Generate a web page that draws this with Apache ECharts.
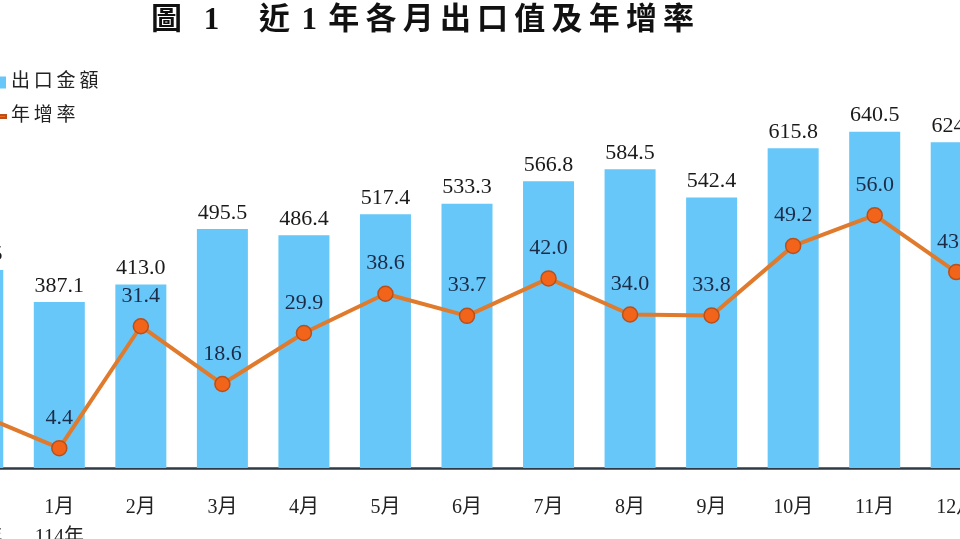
<!DOCTYPE html>
<html>
<head>
<meta charset="utf-8">
<script src="https://cdn.jsdelivr.net/npm/echarts@6/dist/echarts.min.js"></script>
<style>
  html, body { margin: 0; padding: 0; background: #fff; overflow: hidden; width: 960px; height: 539px; }
  /* chart is wider than the window so the first and last months are cut off like the source picture */
  #chart { position: absolute; left: -63px; top: 0; width: 1060px; height: 539px; }
</style>
</head>
<body>
<div id="chart"></div>
<script>
// months (first one is 113年12月, cut off at the left edge like the source image)
var months = ['12月\n113年', '1月\n114年', '2月', '3月', '4月', '5月', '6月', '7月', '8月', '9月', '10月', '11月', '12月'];
// 出口金額 (億美元)
var exportValue = [434.5, 387.1, 413.0, 495.5, 486.4, 517.4, 533.3, 566.8, 584.5, 542.4, 615.8, 640.5, 624.7];
// 年增率 (%)
var growthRate = [12.0, 4.4, 31.4, 18.6, 29.9, 38.6, 33.7, 42.0, 34.0, 33.8, 49.2, 56.0, 43.4];

var shift = 63; // chart div starts this far left of the window
var serif = '"Liberation Serif", "Noto Sans CJK TC", serif';
var spaced = function (s) { return s.split('').join('\u2009'); };

var chart = echarts.init(document.getElementById('chart'));

var option = {
    animation: false,
    backgroundColor: '#fff',
    title: {
        text: '圖\u2002\u20091\u2002\u2002\u2009\u200a近\u2009\u200a\u200a1\u2009\u200a\u200a' + spaced('年各月出口值及年增率'),
        left: 146 + shift,
        top: 0,
        textStyle: {
            fontFamily: serif,
            fontSize: 31,
            fontWeight: 'bold',
            color: '#111'
        }
    },
    legend: {
        orient: 'vertical',
        left: -12 + shift,
        top: 68,
        itemWidth: 12,
        itemHeight: 12,
        itemGap: 15,
        formatter: spaced,
        textStyle: {
            fontFamily: serif,
            fontSize: 19,
            color: '#222'
        },
        data: [
            { name: '出口金額', icon: 'rect' },
            { name: '年增率', icon: 'path://M0,0 L12,0 L12,3 L0,3 Z' }
        ]
    },
    grid: {
        left: 0,
        right: 0,
        top: 68,
        bottom: 71,
        containLabel: false,
        outerBoundsMode: 'none'
    },
    xAxis: {
        type: 'category',
        data: months,
        axisTick: { show: false },
        axisLine: { lineStyle: { color: '#2f3a45', width: 2.5 } },
        axisLabel: {
            fontFamily: serif,
            fontSize: 20,
            color: '#222',
            margin: 25,
            lineHeight: 30
        }
    },
    yAxis: [
        { type: 'value', min: 140, max: 735.2, show: false, splitLine: { show: false } },
        { type: 'value', min: 0, max: 88.6, show: false, splitLine: { show: false } }
    ],
    series: [
        {
            name: '出口金額',
            type: 'bar',
            data: exportValue,
            barWidth: 51,
            itemStyle: { color: '#66c7f8' },
            label: {
                show: true,
                position: 'top',
                distance: 5,
                fontFamily: serif,
                fontSize: 22,
                color: '#1a1a1a',
                formatter: function (p) { return p.value.toFixed(1); }
            }
        },
        {
            name: '年增率',
            type: 'line',
            yAxisIndex: 1,
            data: growthRate,
            symbol: 'circle',
            symbolSize: 15,
            lineStyle: { color: '#e07a2c', width: 4 },
            itemStyle: { color: '#f26419', borderColor: '#b8501c', borderWidth: 1.5 },
            label: {
                show: true,
                position: 'top',
                distance: 11,
                fontFamily: serif,
                fontSize: 22,
                color: '#1c2b48',
                formatter: function (p) { return p.value.toFixed(1); }
            },
            z: 3
        }
    ]
};

chart.setOption(option);
</script>
</body>
</html>
